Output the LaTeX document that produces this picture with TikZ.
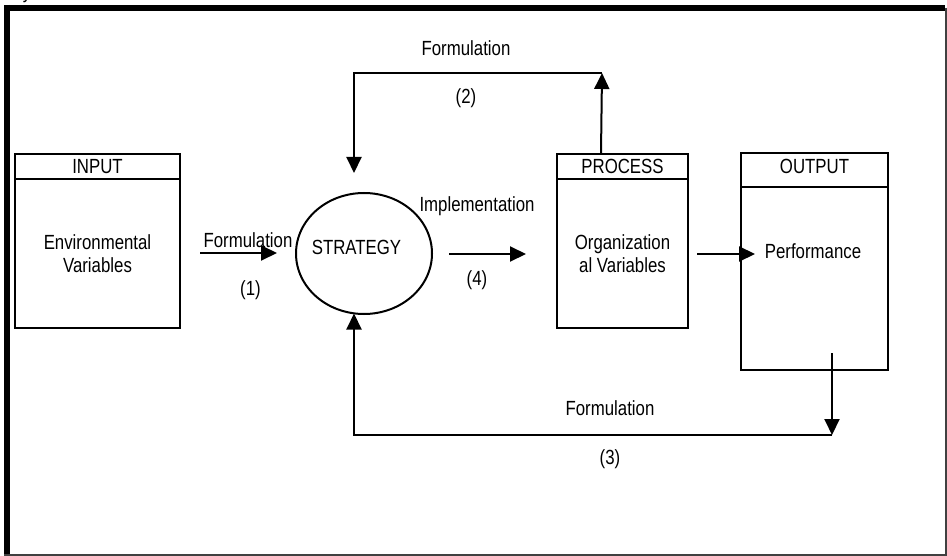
\documentclass[tikz,border=0pt]{standalone}
\usepackage{fontspec}
\setmainfont{Liberation Sans}[FakeStretch=0.82]
\usetikzlibrary{shapes.geometric,arrows.meta}
\begin{document}
\begin{tikzpicture}[x=1pt,y=-1pt,
  font=\fontsize{20.5}{23}\selectfont,
  boxstyle/.style={draw, line width=2pt, inner sep=0pt, rectangle},
  arr/.style={line width=2pt, -{Triangle[length=16pt,width=15pt]}},
  conn/.style={line width=2pt},
  lbl/.style={inner sep=0pt, align=center},
  framethick/.style={line width=6pt},
  framethin/.style={line width=1.5pt, draw=black!75}]
\useasboundingbox (0,0) rectangle (947,556);
% frame
\draw[framethick] (4,8) -- (945,8);
\draw[framethick] (7,5) -- (7,556);
\draw[framethin] (946,8) -- (946,556);
\draw[framethin] (4,555.2) -- (946.7,555.2);
\begin{scope}
\clip (0,0) rectangle (947,556);
\node[lbl, anchor=base] (ytail) at (27,-1) {y};
\end{scope}
% boxes
\node[boxstyle, minimum width=165, minimum height=174] (inp) at (97.5,241) {};
\draw[conn] ([yshift=-26pt]inp.north west) -- ([yshift=-26pt]inp.north east);
\node[lbl] (inpt) at (97.5,166.5) {INPUT};
\node[lbl] (env) at (97.5,253.5) {Environmental\\Variables};

\node[boxstyle, minimum width=131, minimum height=174] (proc) at (622.5,241) {};
\draw[conn] ([yshift=-26pt]proc.north west) -- ([yshift=-26pt]proc.north east);
\node[lbl] (proct) at (622.5,166) {PROCESS};
\node[lbl] (org) at (622.5,253.5) {Organization\\al Variables};

\node[boxstyle, minimum width=147, minimum height=217] (out) at (814.5,261.5) {};
\draw[conn] ([yshift=-35pt]out.north west) -- ([yshift=-35pt]out.north east);
\node[lbl] (outt) at (814.5,166) {OUTPUT};
\node[lbl] (perf) at (813,251) {Performance};

% strategy
\node[draw, ellipse, line width=2pt, inner sep=0pt, minimum width=136, minimum height=121] (strat) at (364,253.5) {};
\node[lbl] (stratt) at (356.5,247.5) {STRATEGY};

% arrow (1)
\coordinate (a1s) at (200,253);
\coordinate (a1e) at (277,253);
\draw[arr] (a1s) -- (a1e);
\node[lbl] (f1) at (248,240.5) {Formulation};
\node[lbl] (n1) at (250.5,290) {(1)};

% arrow (4)
\coordinate (a4s) at (449,254);
\coordinate (a4e) at (526,254);
\draw[arr] (a4s) -- (a4e);
\node[lbl] (impl) at (477,206) {Implementation};
\node[lbl] (n4) at (477,280) {(4)};

% process -> output
\coordinate (poS) at (697,254);
\coordinate (poE) at (755,254);
\draw[arr] (poS) -- (poE);

% loop (2)
\coordinate (t2r) at (602,73);
\coordinate (t2e) at (354,173);
\draw[arr] ([xshift=45pt]proc.north west) -- (t2r);
\draw[arr] (t2r) -| (t2e);
\node[lbl] (f2) at (466,48) {Formulation};
\node[lbl] (n2) at (466,98) {(2)};

% loop (3)
\coordinate (b3s) at (832,353);
\coordinate (b3c) at (832,435);
\coordinate (b3e) at (354,313.5);
\draw[arr] (b3s) -- (b3c);
\draw[arr] (b3c) -| (b3e);
\node[lbl] (f3) at (610,408.5) {Formulation};
\node[lbl] (n3) at (610,459) {(3)};
\end{tikzpicture}
\end{document}
